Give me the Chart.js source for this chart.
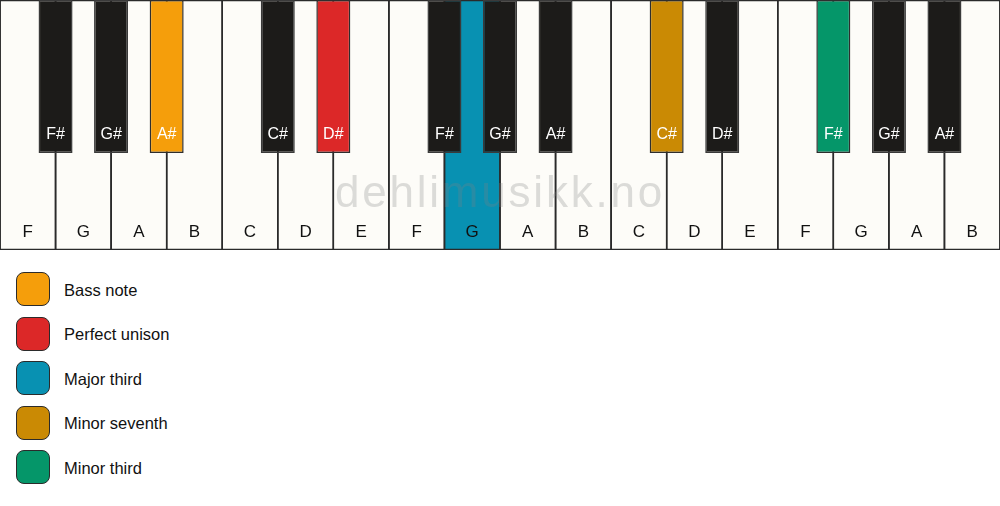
<!DOCTYPE html>
<html><head><meta charset="utf-8">
<script src="https://cdn.jsdelivr.net/npm/chart.js@4.4.1/dist/chart.umd.min.js"></script>
<style>
html,body{margin:0;padding:0;background:#fff;}
#wrap{position:relative;width:1000px;height:506px;overflow:hidden;font-family:'Liberation Sans',Arial,sans-serif;}
#kb{position:absolute;left:0;top:0;width:1000px;height:251px;}
#legend{position:absolute;left:16px;top:272px;}
.item{display:flex;align-items:center;height:34px;margin-bottom:10.6px;}
.sw{width:34px;height:34px;box-sizing:border-box;border:1.5px solid #2b2b2b;border-radius:8px;}
.lbl{margin-left:14px;font-size:16.5px;color:#111;position:relative;top:1px;}
</style></head>
<body><div id="wrap"><div id="kb"><canvas id="c"></canvas></div><div id="legend"></div></div>
<script>
// ---- data ----
const whiteKeys = ['F','G','A','B','C','D','E','F','G','A','B','C','D','E','F','G','A','B'];
const blackKeys = ['F#','G#','A#','C#','D#','F#','G#','A#','C#','D#','F#','G#','A#'];
const roleNames = ['Bass note','Perfect unison','Major third','Minor seventh','Minor third'];
const roleColors = ['#F59E0B','#DC2828','#0891B2','#CA8A04','#059669'];
// role index per key (-1 = not highlighted)
const whiteKeyRoles = [-1,-1,-1,-1,-1,-1,-1,-1,2,-1,-1,-1,-1,-1,-1,-1,-1,-1];
const blackKeyRoles = [-1,-1,0,-1,1,-1,-1,-1,3,-1,4,-1,-1];
const watermarkText = 'dehlimusikk.no';

// ---- layout constants (fractions of key height / width) ----
const BLACK_BOTTOM = 0.388;
const WHITE_LABEL_Y = 0.052;
const BLACK_LABEL_Y = 0.443;
const WATERMARK_Y = 0.172;
const BLACK_WIDTH = 0.612;   // black key width / white key width
const WHITE_GAP = 0.028;     // dark separator / white key width

const WHITE_FILL = '#FDFCF8', BLACK_FILL = '#1C1B19', EDGE = '#2a2a2a';
const sharpAfter = ['C','D','F','G','A'];

// black key positions derived from the white key sequence
const blackPos = [];
whiteKeys.forEach((k,i)=>{ if (i < whiteKeys.length-1 && sharpAfter.includes(k)) blackPos.push(i+1); });

const whiteData = whiteKeys.map((k,i)=>({x:i+0.5, y:[0,1]}));
const blackData = blackKeys.map((k,i)=>({x:blackPos[i], y:[BLACK_BOTTOM,1]}));

// dark keyboard bed behind the keys (shows as the separators between white keys)
const keyBed = {
  id:'keyBed',
  beforeDatasetsDraw(chart){
    const {ctx, chartArea:a} = chart;
    ctx.save(); ctx.fillStyle = EDGE;
    ctx.fillRect(a.left, a.top, a.right - a.left, a.bottom - a.top);
    ctx.restore();
  }
};

const keyLabels = {
  id:'keyLabels',
  afterDatasetsDraw(chart){
    const {ctx, scales:{x, y}} = chart;
    ctx.save();
    ctx.font = '44px "Liberation Sans", Arial, sans-serif';
    try { ctx.letterSpacing = '2.8px'; } catch(e) {}
    ctx.fillStyle = 'rgba(128,128,128,0.27)';
    ctx.textAlign = 'center';
    ctx.textBaseline = 'alphabetic';
    ctx.fillText(watermarkText, (x.left + x.right)/2, y.getPixelForValue(WATERMARK_Y));
    try { ctx.letterSpacing = '0px'; } catch(e) {}
    ctx.font = '17px "Liberation Sans", Arial, sans-serif';
    ctx.fillStyle = '#111';
    whiteKeys.forEach((k,i)=> ctx.fillText(k, x.getPixelForValue(i+0.5), y.getPixelForValue(WHITE_LABEL_Y)));
    ctx.font = '16px "Liberation Sans", Arial, sans-serif';
    ctx.fillStyle = '#fff';
    blackKeys.forEach((k,i)=> ctx.fillText(k, x.getPixelForValue(blackPos[i]), y.getPixelForValue(BLACK_LABEL_Y)));
    ctx.restore();
  }
};

// both datasets share one linear x axis; the smallest spacing between
// key centres there is half a white key, hence the factor 2.
new Chart(document.getElementById('c'), {
  type:'bar',
  data:{
    datasets:[
      {
        label:'White keys', data:whiteData, order:2, grouped:false,
        backgroundColor: whiteKeyRoles.map(r=> r<0 ? WHITE_FILL : roleColors[r]),
        borderColor:EDGE, borderWidth:{top:1.2,bottom:1.2,left:0,right:0}, borderSkipped:false,
        barPercentage:2*(1-WHITE_GAP), categoryPercentage:1, inflateAmount:0
      },
      {
        label:'Black keys', data:blackData, order:1, grouped:false,
        backgroundColor: blackKeyRoles.map(r=> r<0 ? BLACK_FILL : roleColors[r]),
        borderColor: blackKeyRoles.map(r=> r<0 ? '#3a3a3a' : '#2e2e2e'), borderWidth:1.5, borderSkipped:false,
        barPercentage:2*BLACK_WIDTH, categoryPercentage:1, inflateAmount:0
      }
    ]
  },
  options:{
    responsive:true, maintainAspectRatio:false, animation:false,
    layout:{padding:{top:0,left:0,right:0,bottom:1}},
    scales:{
      x: {type:'linear', display:false, min:0, max:whiteKeys.length, offset:false, ticks:{stepSize:1}, grid:{display:false}},
      y: {type:'linear', display:false, min:0, max:1, grid:{display:false}}
    },
    plugins:{legend:{display:false}, tooltip:{enabled:false}}
  },
  plugins:[keyBed, keyLabels]
});

const lg = document.getElementById('legend');
roleNames.forEach((n,i)=>{
  const it = document.createElement('div'); it.className='item';
  const sw = document.createElement('div'); sw.className='sw'; sw.style.background = roleColors[i];
  const lb = document.createElement('span'); lb.className='lbl'; lb.textContent = n;
  it.appendChild(sw); it.appendChild(lb); lg.appendChild(it);
});
</script>
</body></html>
